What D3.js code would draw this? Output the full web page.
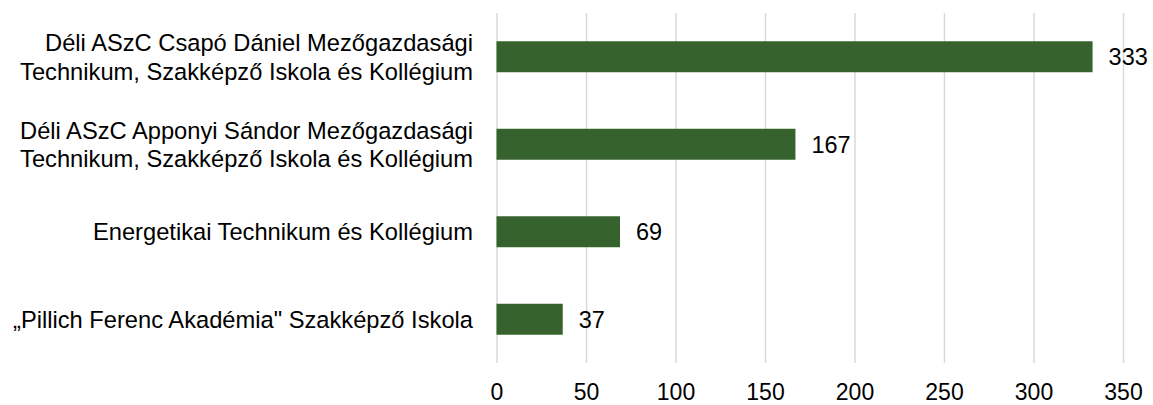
<!DOCTYPE html>
<html>
<head>
<meta charset="utf-8">
<script src="https://cdn.jsdelivr.net/npm/d3@7"></script>
<style>
  body { margin: 0; background: #fff; }
  text { font-family: "Liberation Sans", Arial, sans-serif; fill: #000; }
</style>
</head>
<body>
<div id="chart"></div>
<script>
// adatok
const categories = [
  "Déli ASzC Csapó Dániel Mezőgazdasági\nTechnikum, Szakképző Iskola és Kollégium",
  "Déli ASzC Apponyi Sándor Mezőgazdasági\nTechnikum, Szakképző Iskola és Kollégium",
  "Energetikai Technikum és Kollégium",
  "„Pillich Ferenc Akadémia\" Szakképző Iskola"
];
const values = [333, 167, 69, 37];
const xTicks = [0, 50, 100, 150, 200, 250, 300, 350];

const W = 1153, H = 405;
const margin = { top: 13, right: 30, bottom: 42, left: 496.5 };

const svg = d3.select("#chart").append("svg")
  .attr("width", W).attr("height", H);

const x = d3.scaleLinear().domain([0, 350]).range([margin.left, margin.left + 626.5]);
const y = d3.scaleBand().domain(categories)
  .range([margin.top, H - margin.bottom])
  .paddingInner(0.646).paddingOuter(0.323);

// rácsvonalak
svg.append("g")
  .attr("transform", `translate(0,${H - margin.bottom})`)
  .call(d3.axisBottom(x).tickValues(xTicks).tickSize(-(H - margin.bottom - margin.top)).tickFormat(""))
  .call(g => g.select(".domain").remove())
  .call(g => g.selectAll("line").attr("stroke", "#d9d9d9").attr("stroke-width", 1.5));

// x tengely feliratai
svg.append("g")
  .attr("transform", `translate(0,${H - margin.bottom})`)
  .call(d3.axisBottom(x).tickValues(xTicks).tickSize(0).tickPadding(0))
  .call(g => g.select(".domain").remove())
  .call(g => g.selectAll("text")
    .attr("y", 0).attr("dy", null)
    .attr("transform", "translate(0,37)")
    .style("font-size", "23px")
    .style("font-family", "'Liberation Sans', Arial, sans-serif"));

// oszlopok
svg.append("g").selectAll("rect")
  .data(values)
  .join("rect")
  .attr("x", x(0))
  .attr("y", (d, i) => y(categories[i]))
  .attr("width", d => x(d) - x(0))
  .attr("height", y.bandwidth())
  .attr("fill", "#35622d");

// értékcímkék
svg.append("g").selectAll("text")
  .data(values)
  .join("text")
  .attr("x", d => x(d) + 16)
  .attr("y", (d, i) => y(categories[i]) + y.bandwidth() / 2 + 8.5)
  .style("font-size", "23.5px")
  .text(d => d);

// kategória címkék
const labels = svg.append("g").selectAll("text")
  .data(categories)
  .join("text")
  .attr("text-anchor", "end")
  .style("font-size", "23.7px")
  .attr("transform", d => `translate(473,${y(d) + y.bandwidth() / 2})`);

labels.each(function(d) {
  const lines = d.split("\n");
  const lh = 28.5;
  const t = d3.select(this);
  lines.forEach((ln, i) => {
    t.append("tspan")
      .attr("x", 0)
      .attr("y", 8.5 + (i - (lines.length - 1) / 2) * lh)
      .text(ln);
  });
});
</script>
</body>
</html>
